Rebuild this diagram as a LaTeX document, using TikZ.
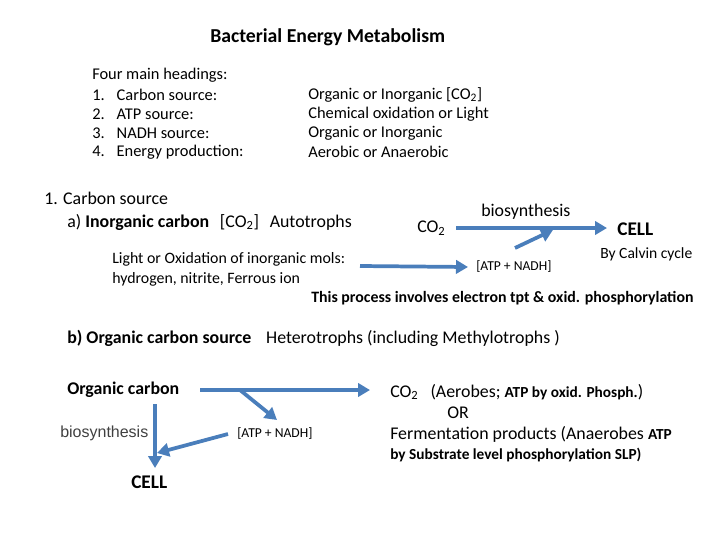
\documentclass[tikz,border=0pt]{standalone}
\usepackage{fontspec}
\setmainfont{Carlito}
\newfontfamily\arialf{Liberation Sans}
\usetikzlibrary{arrows.meta}
\definecolor{ablue}{HTML}{4A7EBB}
\tikzset{
  t/.style={anchor=west,inner sep=0pt,font=\fontsize{12.3}{14}\selectfont},
  ts/.style={anchor=west,inner sep=0pt,font=\fontsize{10.5}{12}\selectfont\bfseries},
  arr/.style={draw=ablue,line width=2.8pt,-{Triangle[length=9pt,width=10pt]}},
  ln/.style={draw=ablue,line width=2.8pt}
}
\begin{document}
\begin{tikzpicture}[x=0.75pt,y=-0.75pt]
\useasboundingbox (0,0) rectangle (720,540);
\node[t,font=\fontsize{14.8}{16}\selectfont\bfseries] (title) at (210,37) {Bacterial Energy Metabolism};
\node[t] (h0) at (92,75) {Four main headings:};
\node[t] (h1) at (92,95) {1.\hspace{9pt}Carbon source:};
\node[t] (h2) at (92,114) {2.\hspace{9pt}ATP source:};
\node[t] (h3) at (92,133) {3.\hspace{9pt}NADH source:};
\node[t] (h4) at (92,152) {4.\hspace{9pt}Energy production:};
\node[t] (r1) at (308,95) {Organic or Inorganic [CO\textsubscript{2}]};
\node[t] (r2) at (308,114) {Chemical oxidation or Light};
\node[t] (r3) at (308,133) {Organic or Inorganic};
\node[t] (r4) at (308,152) {Aerobic or Anaerobic};
\node[t,font=\fontsize{13.4}{15}\selectfont] (s1) at (44,198) {1. Carbon source};
\node[t,font=\fontsize{13.4}{15}\selectfont] (s1a) at (67,222) {a) \textbf{Inorganic carbon}\hspace{5pt} [CO\textsubscript{2}]\hspace{5pt} Autotrophs};
\node[t,font=\fontsize{13.4}{15}\selectfont] (co2) at (417,228) {CO\textsubscript{2}};
\node[t,font=\fontsize{13.4}{15}\selectfont] (bio1) at (481,212) {biosynthesis};
\node[t,font=\fontsize{14.5}{16}\selectfont\bfseries] (cell1) at (617,229) {CELL};
\node[t,font=\fontsize{11.7}{13}\selectfont] (calvin) at (600,254) {By Calvin cycle};
\node[t,font=\fontsize{11.9}{13}\selectfont] (light) at (112,259) {Light or Oxidation of inorganic mols:};
\node[t,font=\fontsize{11.9}{13}\selectfont] (hyd) at (112,279) {hydrogen, nitrite, Ferrous ion};
\node[ts,font=\fontsize{10.2}{12}\selectfont] (atp1) at (476,267) {[ATP + NADH]};
\node[ts,font=\fontsize{11.9}{13}\selectfont\bfseries] (proc) at (311,298) {This process involves electron tpt \& oxid. phosphorylation};
\coordinate (a1s) at (456,228); \coordinate (a1e) at (607,228);
\draw[arr] (a1s) -- (a1e);
\coordinate (d1s) at (515,248); \coordinate (d1e) at (553,230);
\draw[arr] (d1s) -- (d1e);
\coordinate (l1s) at (360,266);
\draw[arr] (l1s) -- ([xshift=-6pt]atp1.west);
\node[t,font=\fontsize{13.4}{15}\selectfont] (s1b) at (67,338) {\textbf{b) Organic carbon source}\hspace{8pt} Heterotrophs (including Methylotrophs )};
\node[t,font=\fontsize{13.4}{15}\selectfont\bfseries] (orgc) at (67,390) {Organic carbon};
\node[t,font=\fontsize{13.4}{15}\selectfont] (co2b) at (390,392) {CO\textsubscript{2}\hspace{6pt} (Aerobes; {\fontsize{11.5}{13}\selectfont\bfseries ATP by oxid. Phosph.})};
\node[t,font=\fontsize{13.4}{15}\selectfont] (or) at (447,413) {OR};
\node[t,font=\fontsize{13.4}{15}\selectfont] (ferm) at (390,434) {Fermentation products (Anaerobes {\fontsize{11.5}{13}\selectfont\bfseries ATP}};
\node[ts,font=\fontsize{11.5}{13}\selectfont\bfseries] (slp) at (390,455) {by Substrate level phosphorylation SLP)};
\node[t,font=\fontsize{12}{14}\selectfont\arialf,text=black!75] (bio2) at (60,433) {biosynthesis};
\node[ts,font=\fontsize{10.2}{12}\selectfont] (atp2) at (237,433) {[ATP + NADH]};
\node[t,font=\fontsize{14.5}{16}\selectfont\bfseries] (cell2) at (131,482) {CELL};
\coordinate (b1s) at (200,390); \coordinate (b1e) at (370,390); \coordinate (br) at (240,390);
\draw[arr] (b1s) -- (b1e);
\coordinate (brE) at (277,420);
\draw[arr] (br) -- (brE);
\coordinate (v1s) at (155,404); \coordinate (v1e) at (155,468);
\draw[arr] (v1s) -- (v1e);
\coordinate (d2s) at (228,434); \coordinate (d2e) at (157,453);
\draw[arr] (d2s) -- (d2e);
\end{tikzpicture}
\end{document}
